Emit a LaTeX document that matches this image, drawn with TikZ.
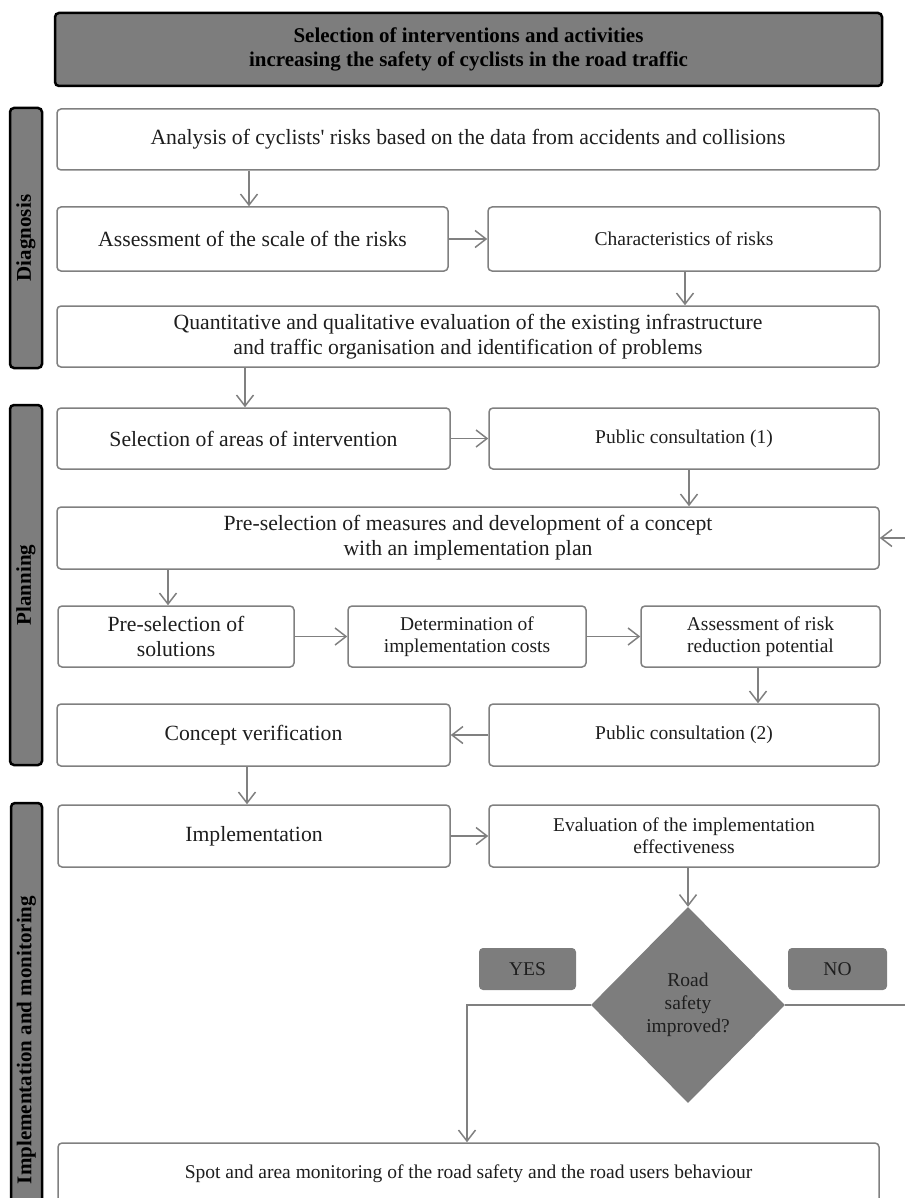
\documentclass[tikz,border=0pt]{standalone}
\usepackage{fontspec}
\setmainfont{Liberation Serif}
\usetikzlibrary{arrows.meta,shapes.geometric}
\definecolor{linegray}{RGB}{128,128,128}
\definecolor{fillgray}{RGB}{125,125,125}
\definecolor{txt}{RGB}{30,30,30}
\tikzset{
  box/.style={draw=linegray, line width=1.5pt, rounded corners=4pt, fill=white,
    align=center, text=txt, inner sep=2pt, font=\fontsize{21.7}{25}\selectfont},
  sbox/.style={box, font=\fontsize{19.5}{22}\selectfont},
  bar/.style={draw=black, line width=2.5pt, fill=fillgray, rounded corners=4pt,
    rotate=90, text=black, inner sep=0pt, font=\bfseries\fontsize{21}{24}\selectfont},
  tag/.style={fill=fillgray, rounded corners=4pt, text=txt, inner sep=0pt,
    font=\fontsize{19.5}{22}\selectfont},
  arr/.style={draw=linegray, line width=1.5pt,
    -{Straight Barb[length=11pt,width=17pt,line width=1.5pt]}},
}
\begin{document}
\begin{tikzpicture}[x=1pt,y=-1pt]
\useasboundingbox (0,0) rectangle (904,1198);
% header
\node[draw=black, line width=2.5pt, fill=fillgray, rounded corners=4pt, align=center,
  text=black, minimum width=827pt, minimum height=73pt, inner sep=0pt,
  font=\bfseries\fontsize{21}{24}\selectfont] (head) at (468.5,49.5)
  {Selection of interventions and activities\\increasing the safety of cyclists in the road traffic};
% side bars
\node[bar, minimum width=260pt, minimum height=32pt] (diag) at (26,238) {Diagnosis};
\node[bar, minimum width=360pt, minimum height=32pt] (plan) at (26,585) {Planning};
\node[bar, minimum width=474pt, minimum height=31pt] (impl) at (26.5,1040) {Implementation and monitoring};
% boxes
\node[box, minimum width=822pt, minimum height=61pt] (b1) at (468,139.5)
  {Analysis of cyclists\textquotesingle{} risks based on the data from accidents and collisions};
\node[box, minimum width=391pt, minimum height=64pt] (b2) at (252.5,239)
  {Assessment of the scale of the risks};
\node[sbox, minimum width=392pt, minimum height=64pt] (b3) at (684,239)
  {Characteristics of risks};
\node[box, minimum width=822pt, minimum height=61pt] (b4) at (468,336.5)
  {Quantitative and qualitative evaluation of the existing infrastructure\\and traffic organisation and identification of problems};
\node[box, minimum width=393pt, minimum height=61pt] (b5) at (253.5,438.5)
  {Selection of areas of intervention};
\node[sbox, minimum width=390pt, minimum height=61pt] (b6) at (684,438.5)
  {Public consultation (1)};
\node[box, minimum width=822pt, minimum height=62pt] (b7) at (468,538)
  {Pre-selection of measures and development of a concept\\with an implementation plan};
\node[box, minimum width=236pt, minimum height=61pt] (b8) at (176,636.5)
  {Pre-selection of\\solutions};
\node[sbox, minimum width=238pt, minimum height=61pt] (b9) at (467,636.5)
  {Determination of\\implementation costs};
\node[sbox, minimum width=239pt, minimum height=61pt] (b10) at (760.5,636.5)
  {Assessment of risk\\reduction potential};
\node[sbox, minimum width=390pt, minimum height=62pt] (b11) at (684,735)
  {Public consultation (2)};
\node[box, minimum width=393pt, minimum height=62pt] (b12) at (253.5,735)
  {Concept verification};
\node[box, minimum width=392pt, minimum height=62pt] (b13) at (254,836)
  {Implementation};
\node[sbox, minimum width=390pt, minimum height=62pt] (b14) at (684,836)
  {Evaluation of the implementation\\effectiveness};
\node[diamond, fill=fillgray, minimum width=194pt, minimum height=196pt, inner sep=0pt,
  align=center, text=txt, font=\fontsize{19.5}{23}\selectfont] (dia) at (688,1005)
  {Road\\safety\\improved?};
\node[tag, minimum width=97pt, minimum height=42pt] (yes) at (527.5,969) {YES};
\node[tag, minimum width=99pt, minimum height=42pt] (no) at (837.5,969) {NO};
\node[sbox, minimum width=821pt, minimum height=62pt] (b15) at (468.5,1174)
  {Spot and area monitoring of the road safety and the road users behaviour};
% column coordinates
\coordinate (c1) at (249,0);
\coordinate (c3) at (685,0);
\coordinate (c4) at (245,0);
\coordinate (c6) at (689,0);
\coordinate (c7) at (168,0);
\coordinate (c10) at (758,0);
\coordinate (c12) at (247,0);
\coordinate (cy) at (467,0);
\coordinate (cn) at (920,0);
% connectors
\draw[arr] (b1.south -| c1) -- (b2.north -| c1);
\draw[arr] (b2.east) -- (b3.west);
\draw[arr] (b3.south -| c3) -- (b4.north -| c3);
\draw[arr] (b4.south -| c4) -- (b5.north -| c4);
\draw[arr] (b5.east) -- (b6.west);
\draw[arr] (b6.south -| c6) -- (b7.north -| c6);
\draw[arr] (b7.south -| c7) -- (b8.north -| c7);
\draw[arr] (b8.east) -- (b9.west);
\draw[arr] (b9.east) -- (b10.west);
\draw[arr] (b10.south -| c10) -- (b11.north -| c10);
\draw[arr] (b11.west) -- (b12.east);
\draw[arr] (b12.south -| c12) -- (b13.north -| c12);
\draw[arr] (b13.east) -- (b14.west);
\draw[arr] (b14.south -| dia.north) -- (dia.north);
\draw[arr] (dia.west) -| (b15.north -| cy);
\draw[arr] (dia.east) -- (dia.east -| cn) |- (b7.east);
\end{tikzpicture}
\end{document}
